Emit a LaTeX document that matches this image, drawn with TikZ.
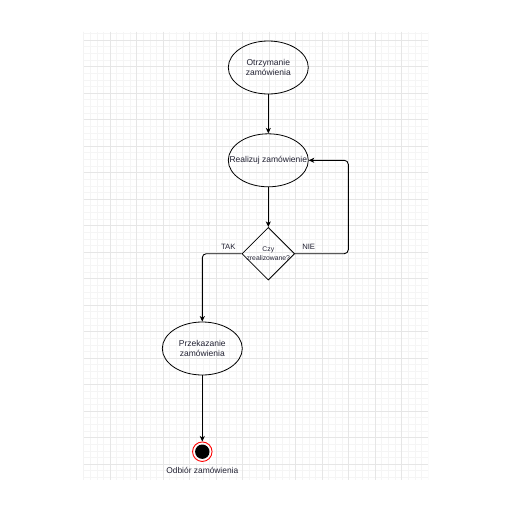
\documentclass[tikz,border=0pt]{standalone}
\usepackage{fontspec}
\setmainfont{Liberation Sans}
\usetikzlibrary{arrows.meta,shapes.geometric}
\definecolor{gridminor}{HTML}{F5F5F5}
\definecolor{gridmajor}{HTML}{E6E6E6}
\definecolor{txt}{HTML}{222233}
\begin{document}
\begin{tikzpicture}[x=1pt,y=-1pt,
  ell/.style={ellipse,draw,line width=0.8pt,minimum width=80pt,minimum height=53pt,inner sep=0pt},
  dia/.style={diamond,draw,line width=0.8pt,minimum width=52.7pt,minimum height=52.7pt,inner sep=0pt},
  lbl/.style={inner sep=0pt,align=center,text=txt,font=\fontsize{7.7}{9}\selectfont},
  etxt/.style={inner sep=0pt,align=center,text=txt,font=\fontsize{8.5}{9.1}\selectfont},
  arr/.style={line width=0.9pt,-{Stealth[length=5.5pt,width=5pt,inset=1.5pt]}}
]
\useasboundingbox (0,0) rectangle (512,512);
\begin{scope}
\clip (83.5,31.7) rectangle (428,479.5);
\foreach \i in {0,...,52} {\draw[gridminor,line width=0.45pt] (83.5+6.625*\i,31.7) -- (83.5+6.625*\i,479.5);}
\foreach \j in {-1,...,67} {\draw[gridminor,line width=0.45pt] (83.5,40+6.625*\j) -- (428,40+6.625*\j);}
\foreach \i in {0,...,13} {\draw[gridmajor,line width=0.55pt] (83.5+26.5*\i,31.7) -- (83.5+26.5*\i,479.5);}
\foreach \j in {0,...,16} {\draw[gridmajor,line width=0.55pt] (83.5,40+26.5*\j) -- (428,40+26.5*\j);}
\end{scope}

\node[ell] (e1) at (268.3,67.5) {};
\node[etxt] (t1) at (e1.center) {Otrzymanie\\zamówienia};
\node[ell] (e2) at (268.3,160.3) {};
\node[etxt] (t2) at (e2.center) {Realizuj zamówienie};
\node[dia] (d) at (268.3,253.7) {};
\node[lbl,font=\fontsize{6.8}{9.3}\selectfont] (dt) at (268.3,253.9) {Czy\\zrealizowane?};
\node[ell] (e3) at (202.3,348.5) {};
\node[etxt] (t3) at (e3.center) {Przekazanie\\zamówienia};
\node[circle,draw=red,line width=0.9pt,minimum size=19.5pt,inner sep=0pt] (end) at (202.3,451.7) {};
\fill[black] (end.center) circle (7.2pt);
\node[lbl,font=\fontsize{8.4}{9}\selectfont] (endl) at (202.3,470) {Odbiór zamówienia};
\coordinate (loopx) at (348.3,0);

\draw[arr] (e1) -- (e2);
\draw[arr] (e2) -- (d);
\draw[arr,rounded corners=4pt] (d.east) -- (d.east -| loopx) |- (e2.east);
\draw[arr,rounded corners=4pt] (d.west) -| (e3.north);
\draw[arr] (e3) -- (end);

\node[lbl] (tak) at (228.3,246.7) {TAK};
\node[lbl] (nie) at (308.7,246.7) {NIE};
\end{tikzpicture}
\end{document}
